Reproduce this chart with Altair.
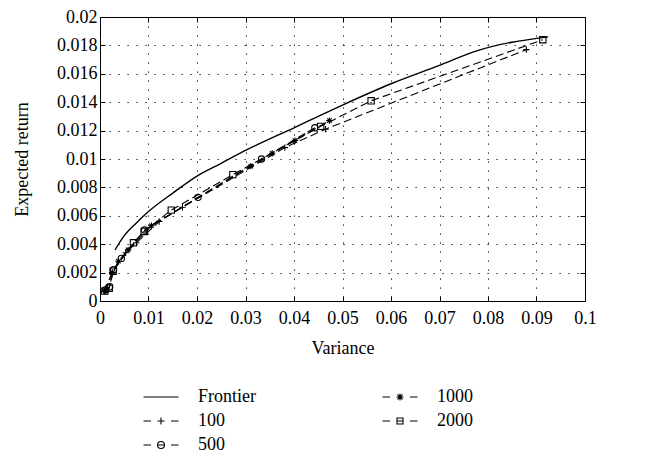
import altair as alt
import pandas as pd

# ---------------- data ----------------
frontier_var = [0.0031, 0.0050, 0.0075, 0.0100, 0.0150, 0.0200, 0.0250, 0.0300, 0.0400,
                0.0500, 0.0600, 0.0700, 0.0775, 0.0924]
frontier_ret = [0.0036, 0.0046, 0.0055, 0.0063, 0.0076, 0.0088, 0.0097, 0.0106, 0.0122,
                0.0138, 0.0153, 0.0166, 0.0176, 0.0186]

var_100 = [0.0009, 0.0025, 0.0053, 0.0075, 0.0122, 0.0170, 0.0381, 0.0465, 0.0879]
ret_100 = [0.0007, 0.0020, 0.0034, 0.0041, 0.0056, 0.0066, 0.0108, 0.0121, 0.0177]

var_500 = [0.0012, 0.0020, 0.0028, 0.0044, 0.0092, 0.0202, 0.0333, 0.0443]
ret_500 = [0.0008, 0.0010, 0.0022, 0.0030, 0.0050, 0.0073, 0.0100, 0.0122]

var_1000 = [0.0011, 0.0026, 0.0038, 0.0058, 0.0106, 0.0311, 0.0355, 0.0402, 0.0473]
ret_1000 = [0.0007, 0.0020, 0.0028, 0.0036, 0.0053, 0.0095, 0.0104, 0.0113, 0.0127]

var_2000 = [0.0010, 0.0019, 0.0027, 0.0069, 0.0091, 0.0147, 0.0274, 0.0455, 0.0559, 0.0913]
ret_2000 = [0.0007, 0.0009, 0.0021, 0.0041, 0.0049, 0.0064, 0.0089, 0.0123, 0.0141, 0.0184]

series_names = ["100", "500", "1000", "2000"]
legend_order = ["Frontier", "100", "500", "1000", "2000"]  # filled column by column

x_ticks = [0, 0.01, 0.02, 0.03, 0.04, 0.05, 0.06, 0.07, 0.08, 0.09, 0.1]
y_ticks = [0, 0.002, 0.004, 0.006, 0.008, 0.01, 0.012, 0.014, 0.016, 0.018, 0.02]

# ---------------- tables ----------------
front = pd.DataFrame({"variance": frontier_var, "ret": frontier_ret})
rows = []
for name, xs_, ys_ in [("100", var_100, ret_100), ("500", var_500, ret_500),
                       ("1000", var_1000, ret_1000), ("2000", var_2000, ret_2000)]:
    for a, b in zip(xs_, ys_):
        rows.append({"series": name, "variance": a, "ret": b})
pts = pd.DataFrame(rows)
legend_df = pd.DataFrame({"entry": legend_order})

# ---------------- styling ----------------
FONT = "Liberation Serif, Times New Roman, serif"
FS = 18

plus_p = "M-1,0L1,0M0,-1L0,1"
star_p = "M-1,0L1,0M0,-1L0,1M-0.7,-0.7L0.7,0.7M-0.7,0.7L0.7,-0.7"
point_shapes = [plus_p, "circle", star_p, "square"]

dash = "M-3.5,0L-2.0,0M2.0,0L3.5,0"
lg_front = "M-3.5,0L3.5,0"
lg_plus = dash + "M-0.7,0L0.7,0M0,-0.7L0,0.7"
lg_star = dash + "M-0.7,0L0.7,0M0,-0.7L0,0.7M-0.5,-0.5L0.5,0.5M-0.5,0.5L0.5,-0.5"
lg_circ = dash + "M0.7,0A0.7,0.7 0 1,1 -0.7,0A0.7,0.7 0 1,1 0.7,0M-0.7,0L0.7,0"
lg_sq = dash + "M-0.6,-0.6L0.6,-0.6L0.6,0.6L-0.6,0.6ZM-0.6,0L0.6,0"
legend_shapes = [lg_front, lg_plus, lg_circ, lg_star, lg_sq]

xs = alt.Scale(domain=[0, 0.1], nice=False, zero=False)
ys = alt.Scale(domain=[0, 0.02], nice=False, zero=False)

common_axis = dict(domain=False, tickSize=5, offset=-5, tickColor="black", tickWidth=1,
                   labelFont=FONT, labelFontSize=FS, labelColor="black",
                   titleFont=FONT, titleFontSize=FS, titleFontWeight="normal",
                   titleColor="black", labelFlush=False, labelOverlap=False)

x_main = alt.X("variance:Q", scale=xs,
               axis=alt.Axis(orient="bottom", values=x_ticks, format=".2~f", title="Variance",
                             grid=True, gridDash=[1.2, 7.8], gridColor="black", gridWidth=1,
                             labelPadding=8, titlePadding=12, **common_axis))
y_main = alt.Y("ret:Q", scale=ys,
               axis=alt.Axis(orient="left", values=y_ticks, format=".3~f", title="Expected return",
                             grid=True, gridDash=[1.2, 7.8], gridColor="black", gridWidth=1,
                             labelPadding=3, titlePadding=25, **common_axis))

x_plain = alt.X("variance:Q", scale=xs, axis=None)
y_plain = alt.Y("ret:Q", scale=ys, axis=None)

frontier_line = alt.Chart(front).mark_line(color="black", strokeWidth=1.4,
                                           interpolate="monotone").encode(x=x_main, y=y_main)

series_lines = alt.Chart(pts).mark_line(color="black", strokeWidth=1.1, strokeDash=[8, 4]).encode(
    x=x_plain, y=y_plain, detail="series:N", order="variance:Q")

series_pts = alt.Chart(pts).mark_point(color="black", filled=False, size=40, strokeWidth=1.1,
                                       opacity=1).encode(
    x=x_plain, y=y_plain,
    shape=alt.Shape("series:N", scale=alt.Scale(domain=series_names, range=point_shapes),
                    legend=None))

tick_axis = dict(labels=False, grid=False, domain=False, tickSize=5, offset=-5,
                 tickColor="black", tickWidth=1, title=None)
tick_layer = alt.Chart(front).mark_line(opacity=0).encode(
    x=alt.X("variance:Q", scale=xs, axis=alt.Axis(orient="top", values=x_ticks, **tick_axis)),
    y=alt.Y("ret:Q", scale=ys, axis=alt.Axis(orient="right", values=y_ticks, **tick_axis)))

legend_layer = alt.Chart(legend_df).mark_point(color="black", filled=False, opacity=1).encode(
    shape=alt.Shape("entry:N", scale=alt.Scale(domain=legend_order, range=legend_shapes),
                    legend=alt.Legend(title=None, orient="none", legendX=52, legendY=371,
                                      columns=2, columnPadding=124, rowPadding=6,
                                      symbolSize=100, symbolStrokeWidth=1.1,
                                      symbolStrokeColor="black", symbolFillColor="transparent",
                                      labelFont=FONT, labelFontSize=FS, labelColor="black",
                                      labelOffset=28))
).transform_filter("false")

chart = alt.layer(frontier_line, series_lines, series_pts, tick_layer, legend_layer).resolve_scale(
    shape="independent").resolve_axis(x="independent", y="independent").properties(
    width=485, height=284, padding={"left": 5, "top": 0, "right": 5, "bottom": 0}
).configure_view(stroke="black", strokeWidth=1)

chart.save("out.html", embed_options={"renderer": "svg", "actions": False})
